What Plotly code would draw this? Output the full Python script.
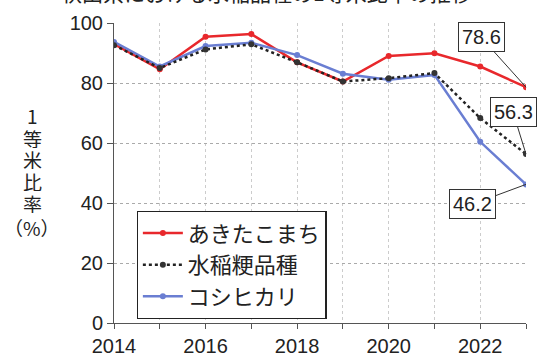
import plotly.graph_objects as go

years = [2014, 2015, 2016, 2017, 2018, 2019, 2020, 2021, 2022, 2023]
akitakomachi = [93.0, 84.6, 95.4, 96.3, 86.9, 80.5, 89.0, 89.9, 85.5, 78.6]
suitou = [92.6, 85.0, 91.2, 92.9, 86.9, 80.5, 81.6, 83.3, 68.3, 56.3]
koshihikari = [93.7, 85.5, 92.3, 93.4, 89.3, 83.1, 81.1, 82.7, 60.4, 46.2]
names = ["あきたこまち", "水稲粳品種", "コシヒカリ"]
x_ticks = [2014, 2016, 2018, 2020, 2022]
y_ticks = [0, 20, 40, 60, 80, 100]
y_title_chars = ["1", "等", "米", "比", "率", "（%）"]

FONT = "Liberation Sans, Arial, Noto Sans CJK JP, sans-serif"
JFONT = "Noto Sans CJK JP, sans-serif"

fig = go.Figure()
fig.add_trace(go.Scatter(x=years, y=akitakomachi, name=names[0], mode="lines+markers",
                         line=dict(color="#e8282c", width=2.5),
                         marker=dict(size=6, color="#e8282c"), legendrank=1))
fig.add_trace(go.Scatter(x=years, y=koshihikari, name=names[2], mode="lines+markers",
                         line=dict(color="#6a7ed2", width=2.5),
                         marker=dict(size=6, color="#6a7ed2"), legendrank=3))
fig.add_trace(go.Scatter(x=years, y=suitou, name=names[1], mode="lines+markers",
                         line=dict(color="#222222", width=2.5, dash="dot"),
                         marker=dict(size=6, color="#333333"), legendrank=2))

fig.update_layout(
    width=537, height=356,
    margin=dict(l=114, r=11, t=23, b=33),
    plot_bgcolor="white", paper_bgcolor="white",
    font=dict(family=FONT, size=19, color="#222"),
    showlegend=True,
    legend=dict(x=0.055, y=0.373, xanchor="left", yanchor="top",
                bordercolor="#222", borderwidth=1.2, bgcolor="white",
                font=dict(family=JFONT, size=22, color="#222"),
                tracegroupgap=0, itemwidth=40),
    xaxis=dict(range=[2014, 2023], tickvals=x_ticks, ticktext=[str(t) for t in x_ticks],
               showgrid=False, showline=True, linecolor="#555", linewidth=1,
               ticks="outside", ticklen=5, tickcolor="#555", automargin=False,
               minor=dict(tickvals=years, ticks="outside", ticklen=5, tickcolor="#555",
                          showgrid=True, gridcolor="#cccccc", griddash="dot", gridwidth=1),
               tickfont=dict(size=20), zeroline=False),
    yaxis=dict(range=[0, 100], tickvals=y_ticks, showgrid=True, gridcolor="#aaaaaa",
               griddash="dot", gridwidth=1, showline=True, linecolor="#555", linewidth=1,
               ticks="outside", ticklen=6, tickcolor="#555", tickfont=dict(size=20),
               zeroline=False, automargin=False),
)

# y axis title stacked vertically, one character per line
title_px = [115, 138, 159, 181, 203, 227]
for ch, py in zip(y_title_chars, title_px):
    fig.add_annotation(text=ch, xref="paper", yref="paper",
                       x=(32 - 114) / 412, y=(323 - py) / 300, showarrow=False,
                       xanchor="center", yanchor="middle", height=20, borderpad=0,
                       font=dict(family=JFONT, size=19, color="#222"))

# clipped title at top
fig.add_annotation(text="秋田県における水稲品種の1等米比率の推移", xref="paper", yref="paper",
                   x=0.37, y=1, yshift=14, xanchor="center", yanchor="bottom", showarrow=False,
                   font=dict(family=JFONT, size=21, color="#222"))

# value callouts
callouts = [(akitakomachi[-1], -45, -50), (suitou[-1], -13, -42), (koshihikari[-1], -54, 20)]
for val, ax, ay in callouts:
    fig.add_annotation(x=years[-1], y=val, text=f"{val:.1f}", showarrow=True, arrowhead=0,
                       arrowwidth=1, arrowcolor="#333", ax=ax, ay=ay,
                       bordercolor="#333", borderwidth=1, bgcolor="white", borderpad=3,
                       font=dict(size=20, color="#222"))

fig.write_html("out.html")
